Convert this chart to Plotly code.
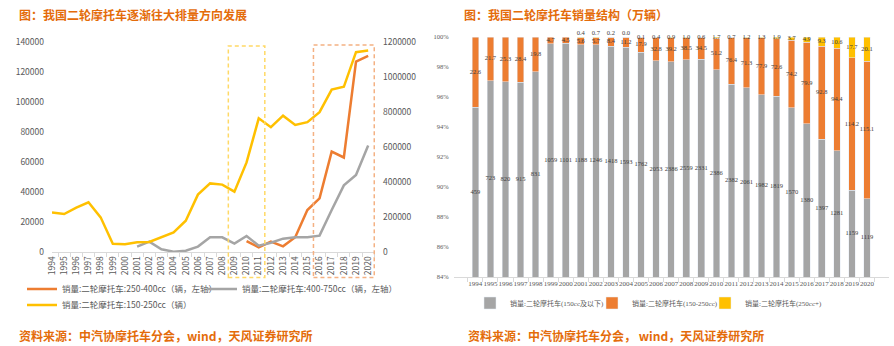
import plotly.graph_objects as go

W, H = 894, 346

years = [str(y) for y in range(1994, 2021)]

# Left panel (辆)
cc250_400 = [None] * 16 + [7300, 3100, 6900, 3800, 9800, 28000, 35800, 66900, 63000, 126900, 130700]
cc400_750 = [None] * 7 + [3600, 6900, 1800, 200, 900, 3600, 9800, 9800, 5600, 10700, 4200,
                          6200, 8900, 9800, 9800, 10900, 28000, 44400, 51300, 71000]
cc150_250 = [226000, 217000, 253000, 284000, 198000, 47000, 45000, 56000, 57000, 84000,
             112000, 179000, 328000, 392000, 385000, 345000, 512000, 764000, 713000, 779000,
             726000, 742000, 799000, 928000, 944000, 1142000, 1151000]

# Right panel (万辆)
small = [459, 723, 820, 915, 831, 1059, 1101, 1188, 1246, 1418, 1593, 1762, 2053, 2386,
         2559, 2331, 2386, 2382, 2061, 1982, 1819, 1570, 1380, 1397, 1281, 1159, 1119]
mid = [22.6, 21.7, 25.3, 28.4, 19.8, 4.7, 4.5, 5.6, 5.7, 8.4, 11.2, 17.9, 32.8, 39.2,
       38.5, 34.5, 51.2, 76.4, 71.3, 77.9, 72.6, 74.2, 79.9, 92.8, 94.4, 114.2, 115.1]
large = [None] * 7 + [0.4, 0.7, 0.2, 0.0, 0.1, 0.4, 0.9, 1.0, 0.6, 1.7, 0.7, 1.2, 1.3,
                      1.9, 3.7, 4.9, 9.3, 10.6, 17.7, 20.1]

RIGHT_MIN = 0.84


def px(x):
    return x / W


def py(y):
    return 1 - y / H


SANS = "Noto Sans CJK SC, Noto Sans, sans-serif"
SERIF = "Liberation Serif, Noto Sans CJK SC, serif"
GREY_TXT = "#595959"
TITLE_C = "#E46C0A"

fig = go.Figure()

# ---- left panel lines
fig.add_trace(go.Scatter(x=years, y=cc250_400, mode="lines", name="销量:二轮摩托车:250-400cc（辆，左轴）",
                         line=dict(color="#ED7D31", width=2.5), xaxis="x", yaxis="y", legend="legend"))
fig.add_trace(go.Scatter(x=years, y=cc400_750, mode="lines", name="销量:二轮摩托车:400-750cc（辆，左轴）",
                         line=dict(color="#A5A5A5", width=2.5), xaxis="x", yaxis="y", legend="legend2"))
fig.add_trace(go.Scatter(x=years, y=cc150_250, mode="lines", name="销量:二轮摩托车:150-250cc（辆）",
                         line=dict(color="#FFC000", width=2.5), xaxis="x", yaxis="y2", legend="legend3"))

# ---- right panel bars
fig.add_trace(go.Bar(x=years, y=small, name="销量:二轮摩托车(150cc及以下)", marker_color="#A5A5A5",
                     xaxis="x2", yaxis="y3", legend="legend4"))
fig.add_trace(go.Bar(x=years, y=mid, name="销量:二轮摩托车(150-250cc)", marker_color="#ED7D31",
                     xaxis="x2", yaxis="y3", legend="legend5"))
fig.add_trace(go.Bar(x=years, y=large, name="销量:二轮摩托车(250cc+)", marker_color="#FFC000",
                     xaxis="x2", yaxis="y3", legend="legend6"))

# data labels centred in the visible part of each segment
lx, ly, lt, lp = [], [], [], []
for i, yr in enumerate(years):
    g, o, l = small[i], mid[i], large[i] or 0
    tot = g + o + l
    gf, of, lf = g / tot, o / tot, l / tot
    lx.append(yr); ly.append((RIGHT_MIN + gf) / 2); lt.append(f"{g}"); lp.append("middle center")
    lx.append(yr); ly.append(gf + of / 2); lt.append(f"{o:.1f}"); lp.append("middle center")
    if large[i] is not None:
        yc = gf + of + lf / 2
        if yc - (gf + of / 2) < 0.004:
            lx.append(yr); ly.append(1.0); lt.append(f"{l:.1f}"); lp.append("top center")
        else:
            lx.append(yr); ly.append(yc); lt.append(f"{l:.1f}"); lp.append("middle center")
fig.add_trace(go.Scatter(x=lx, y=ly, text=lt, mode="text", textposition=lp,
                         textfont=dict(family=SERIF, size=6.5, color="#404040"),
                         xaxis="x2", yaxis="y3", showlegend=False, cliponaxis=False, hoverinfo="skip"))

leg_common = dict(orientation="h", xanchor="left", yanchor="middle", bgcolor="rgba(0,0,0,0)",
                  borderwidth=0, itemwidth=30)
sans_leg = dict(family=SANS, size=8.5, color=GREY_TXT)
serif_leg = dict(family=SERIF, size=7, color=GREY_TXT)

fig.update_layout(
    width=W, height=H,
    margin=dict(l=0, r=0, t=0, b=0, pad=0),
    paper_bgcolor="white", plot_bgcolor="white",
    barmode="stack", barnorm="fraction", bargap=0.56,
    xaxis=dict(domain=[px(52), px(375)], anchor="y", type="category", tickangle=-90,
               tickfont=dict(family=SANS, size=8.5, color=GREY_TXT), showline=True,
               linecolor="#D9D9D9", ticks="outside", tickson="boundaries", ticklen=4,
               tickcolor="#D9D9D9", showgrid=False, automargin=False),
    yaxis=dict(domain=[py(252), py(42)], anchor="x", range=[0, 140000], dtick=20000,
               tickformat="d", showgrid=False, zeroline=False, ticklabelstandoff=7,
               tickfont=dict(family=SANS, size=8.5, color=GREY_TXT), automargin=False),
    yaxis2=dict(overlaying="y", side="right", anchor="x", range=[0, 1200000], dtick=200000,
                tickformat="d", showgrid=False, zeroline=False, ticklabelstandoff=7,
                tickfont=dict(family=SANS, size=8.5, color=GREY_TXT), automargin=False),
    xaxis2=dict(domain=[px(453.6), px(888.7)], anchor="y3", type="category", tickangle=0,
                tickfont=dict(family=SERIF, size=7, color=GREY_TXT), showline=True,
                linecolor="#D9D9D9", ticks="outside", tickson="boundaries", ticklen=4,
                tickcolor="#D9D9D9", showgrid=False, automargin=False),
    yaxis3=dict(domain=[py(277), py(37)], anchor="x2", range=[RIGHT_MIN, 1.0], dtick=0.02,
                tickformat=".0%", showgrid=False, zeroline=False, ticklabelstandoff=4,
                tickfont=dict(family=SERIF, size=6.5, color=GREY_TXT), automargin=False),
    legend=dict(x=px(22), y=py(289), font=sans_leg, **leg_common),
    legend2=dict(x=px(202), y=py(289), font=sans_leg, **leg_common),
    legend3=dict(x=px(22), y=py(305), font=sans_leg, **leg_common),
    legend4=dict(x=px(470), y=py(303), font=serif_leg, **leg_common),
    legend5=dict(x=px(592), y=py(303), font=serif_leg, **leg_common),
    legend6=dict(x=px(705), y=py(303), font=serif_leg, **leg_common),
    shapes=[
        dict(type="rect", xref="x", yref="paper", x0=14.5, x1=17.5, y0=py(277.5), y1=py(46),
             line=dict(color="#FFD966", width=1.5, dash="4px,3px"), fillcolor="rgba(0,0,0,0)"),
        dict(type="rect", xref="x", yref="paper", x0=21.5, x1=26.5, y0=py(277.5), y1=py(45),
             line=dict(color="#F4B183", width=1.5, dash="4px,3px"), fillcolor="rgba(0,0,0,0)"),
    ],
    annotations=[
        dict(text="<b>图：我国二轮摩托车逐渐往大排量方向发展</b>", x=px(17), y=py(15), xref="paper", yref="paper",
             xanchor="left", yanchor="middle", showarrow=False,
             font=dict(family=SANS, size=12, color=TITLE_C)),
        dict(text="<b>图：我国二轮摩托车销量结构（万辆）</b>", x=px(462), y=py(15), xref="paper", yref="paper",
             xanchor="left", yanchor="middle", showarrow=False,
             font=dict(family=SANS, size=12, color=TITLE_C)),
        dict(text="<b>资料来源：中汽协摩托车分会，wind，天风证券研究所</b>", x=px(17), y=py(335), xref="paper",
             yref="paper", xanchor="left", yanchor="middle", showarrow=False,
             font=dict(family=SANS, size=12, color=TITLE_C)),
        dict(text="<b>资料来源：中汽协摩托车分会， wind，天风证券研究所</b>", x=px(466), y=py(335), xref="paper",
             yref="paper", xanchor="left", yanchor="middle", showarrow=False,
             font=dict(family=SANS, size=12, color=TITLE_C)),
    ],
)

fig.write_html("out.html")
